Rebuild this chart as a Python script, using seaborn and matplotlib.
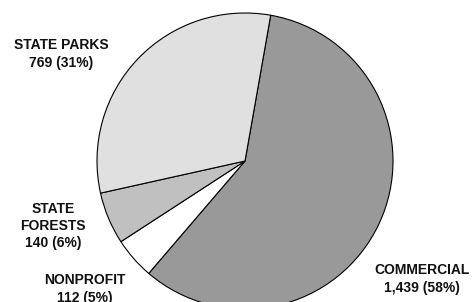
import matplotlib
matplotlib.use("Agg")
import matplotlib.pyplot as plt
import seaborn as sns

# data
categories = ["COMMERCIAL", "NONPROFIT", "STATE\nFORESTS", "STATE PARKS"]
counts = [1439, 112, 140, 769]
percents = [58, 5, 6, 31]
colors = ["#999999", "#ffffff", "#c0c0c0", "#e0e0e0"]

# label anchors in pixel space (x from left, y from top)
label_pos = [(422, 279), (85, 289), (53, 226), (61, 54)]

sns.set_theme(style="white")
plt.rcParams["font.family"] = ["Liberation Sans", "DejaVu Sans"]

fig = plt.figure(figsize=(4.73, 3.02), dpi=100)
ax = fig.add_axes([0, 0, 1, 1])

ax.pie(counts, colors=colors, startangle=80, counterclock=False,
       center=(245, 302 - 161), radius=148, frame=False,
       wedgeprops=dict(edgecolor="black", linewidth=0.8))

# pie() resets the view, so fix the pixel-like limits afterwards
ax.set_xlim(0, 473)
ax.set_ylim(0, 302)
ax.set_aspect("equal")
ax.axis("off")

for name, n, p, (x, y) in zip(categories, counts, percents, label_pos):
    ax.text(x, 302 - y, f"{name}\n{n:,} ({p}%)", ha="center", va="center",
            fontsize=10, fontweight="bold", color="#111111", linespacing=1.3)

fig.savefig("out.png", dpi=100)
